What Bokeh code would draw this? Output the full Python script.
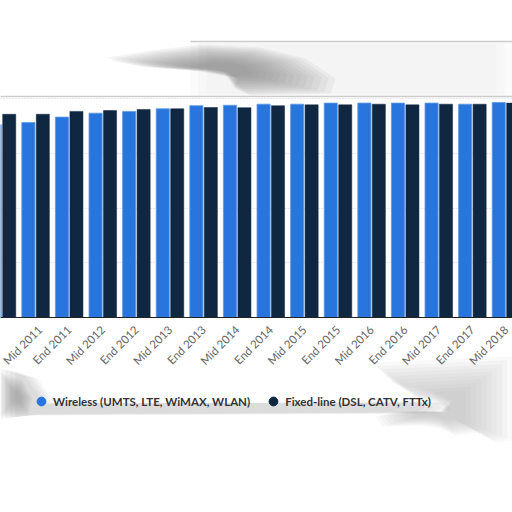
import math
from bokeh.plotting import figure
from bokeh.models import (ColumnDataSource, LinearAxis, FixedTicker, Legend,
                          LegendItem, Range1d)
from bokeh.embed import file_html
from bokeh.resources import INLINE

# ---------------- data ----------------
categories = ["End 2010", "Mid 2011", "End 2011", "Mid 2012", "End 2012",
              "Mid 2013", "End 2013", "Mid 2014", "End 2014", "Mid 2015",
              "End 2015", "Mid 2016", "End 2016", "Mid 2017", "End 2017",
              "Mid 2018"]
wireless = [88.0, 89.0, 91.5, 93.3, 94.1, 95.3, 96.7, 96.9, 97.4, 97.4,
            97.9, 97.9, 97.9, 97.9, 97.4, 98.2]
fixed_line = [92.8, 92.8, 94.1, 94.5, 95.0, 95.3, 95.9, 95.8, 96.7, 97.1,
              97.1, 97.4, 97.1, 97.4, 97.4, 97.9]
tick_labels = categories + ["End 2018"]
series_names = ["Wireless (UMTS, LTE, WiMAX, WLAN)",
                "Fixed-line (DSL, CATV, FTTx)"]
grid_values = [0, 25, 50, 75, 100]

# ---------------- layout constants ----------------
W, H = 512, 512
PX = 33.6           # pixels per category
X0 = -1.5 / PX      # range start (category units)
SY = 2.19           # pixels per value unit
BASE = 317          # y (from top) of the zero line

x_range = Range1d(X0, X0 + W / PX)
y_range = Range1d(-(H - BASE) / SY, BASE / SY)

def fx(px):
    return X0 + px / PX

def fy(py):
    return (BASE - py) / SY

idx = list(range(len(categories)))
src = ColumnDataSource(dict(x=idx, w=wireless, f=fixed_line,
                            xw=[i - 0.215 for i in idx],
                            xf=[i + 0.215 for i in idx]))

p = figure(width=W, height=H, x_range=x_range, y_range=y_range,
           output_backend="svg", toolbar_location=None,
           x_axis_location=None, y_axis_location=None,
           min_border_left=0, min_border_right=0, min_border_top=0,
           min_border_bottom=0, outline_line_color=None,
           background_fill_color="white", border_fill_color="white")

# ----- torn-paper shadows (decoration) -----
def soft(pts, color, alpha, steps=4, shrink=0.16):
    cx = sum(a for a, b in pts) / len(pts)
    cy = sum(b for a, b in pts) / len(pts)
    for k in range(steps):
        f = 1.0 - shrink * k
        xs = [fx(cx + (a - cx) * f) for a, b in pts]
        ys = [fy(cy + (b - cy) * f) for a, b in pts]
        p.patch(xs, ys, fill_color=color, fill_alpha=alpha, line_color=None)

soft([(190, 41), (512, 41), (512, 96), (190, 96)], "#e0e0e0", 0.12, steps=3,
     shrink=0.05)
soft([(107, 57), (150, 50), (200, 44), (260, 47), (305, 58), (335, 78),
      (330, 93), (250, 95), (234, 88), (238, 78), (200, 71), (140, 66),
      (115, 61)], "#7a7a7a", 0.075, steps=13, shrink=0.06)
soft([(0, 368), (25, 376), (38, 395), (40, 403), (445, 402), (450, 408),
      (440, 413), (30, 415), (0, 418)], "#a0a0a0", 0.1, steps=4,
     shrink=0.03)
soft([(0, 372), (22, 380), (32, 398), (28, 414), (0, 416)], "#909090", 0.08,
     steps=9, shrink=0.09)
soft([(372, 362), (512, 356), (512, 440), (495, 442), (480, 432),
      (455, 435), (440, 428), (420, 425), (382, 426), (374, 416),
      (400, 411), (445, 412), (452, 400), (430, 390), (392, 382)],
     "#a8a8a8", 0.07, steps=10, shrink=0.07)
p.segment(x0=[fx(190)], y0=[fy(41)], x1=[fx(512)], y1=[fy(41)],
          line_color="#cccccc", line_width=1.5)
p.segment(x0=[fx(0)], y0=[fy(96)], x1=[fx(512)], y1=[fy(96)],
          line_color="#cccccc", line_width=1.5)

# ----- bars -----
p.vbar(x="xw", top="w", width=0.39, bottom=0, source=src,
       fill_color="#2876dd", line_color="#5a98e6", line_width=0.8)
p.vbar(x="xf", top="f", width=0.39, bottom=0, source=src,
       fill_color="#0f2741", line_color="#0f2741", line_width=0.5)

# ----- grid -----
p.ygrid.ticker = FixedTicker(ticks=grid_values)
p.ygrid.grid_line_color = "#d4d4d4"
p.ygrid.grid_line_dash = "1 2"
p.xgrid.visible = False
p.grid.level = "underlay"

# ----- x axis (first category's label lies off the left edge) -----
xa = LinearAxis(ticker=FixedTicker(ticks=list(range(1, len(tick_labels)))),
                major_label_overrides={i: t for i, t in enumerate(tick_labels)},
                fixed_location=0)
xa.major_label_orientation = math.pi / 4
xa.major_label_text_font = "Lato"
xa.major_label_text_font_size = "11.5px"
xa.major_label_text_color = "#666666"
xa.major_label_standoff = 4
xa.major_tick_line_color = None
xa.minor_tick_line_color = None
xa.axis_line_color = "#222222"
xa.axis_line_width = 1.2
p.add_layout(xa, "below")

# ----- legend -----
r1 = p.scatter(x=[-50], y=[0], marker="circle", size=10,
               fill_color="#2876dd", line_color="#2876dd")
r2 = p.scatter(x=[-50], y=[0], marker="circle", size=10,
               fill_color="#0f2741", line_color="#0f2741")
legend = Legend(items=[LegendItem(label=series_names[0], renderers=[r1]),
                       LegendItem(label=series_names[1], renderers=[r2])],
                orientation="horizontal", location=(30, 100),
                glyph_width=22, glyph_height=22, label_standoff=1,
                spacing=12, padding=0, margin=0,
                background_fill_alpha=0, border_line_color=None,
                label_text_font="Lato", label_text_font_style="bold",
                label_text_font_size="11.5px", label_text_color="#333333")
p.add_layout(legend, "center")

open("out.html", "w").write(file_html(p, INLINE))
